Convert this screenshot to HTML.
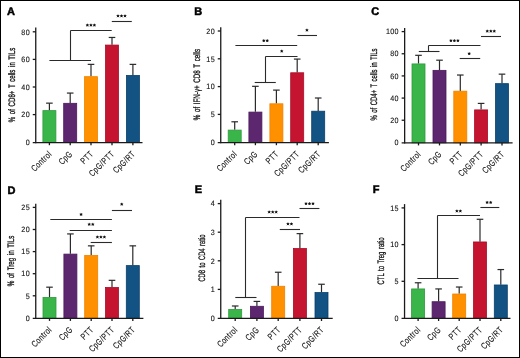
<!DOCTYPE html>
<html><head><meta charset="utf-8"><style>
html,body{margin:0;padding:0;background:#fff;}
body{width:520px;height:358px;overflow:hidden;}
svg{display:block;filter:blur(0.5px);}
text{font-family:"Liberation Sans", sans-serif;text-rendering:geometricPrecision;stroke:#111;stroke-width:0.3px;}
.ax{stroke:#1a1a1a;stroke-width:1.3;}
.eb{stroke:#2a2a2a;stroke-width:1.2;}
.br{stroke:#2a2a2a;stroke-width:1.1;}
.st{stroke:#111;stroke-width:0.7;stroke-linecap:round;fill:none;}
.tl{font-size:7.8px;text-anchor:end;fill:#111;stroke-width:0.1px;letter-spacing:0.3px;}
.xl{font-size:9.0px;text-anchor:end;fill:#111;letter-spacing:0.5px;stroke-width:0.12px;}
.yt{font-size:9.4px;text-anchor:middle;fill:#111;word-spacing:1.5px;stroke-width:0.3px;}
.pl{font-size:11px;font-weight:bold;fill:#000;stroke:#000;stroke-width:0.5px;}
</style></head><body>
<svg width="520" height="358" viewBox="0 0 520 358">
<rect x="0.5" y="0.5" width="519" height="357" fill="#fff" stroke="#000" stroke-width="1"/>
<line x1="49.4" y1="110.32" x2="49.4" y2="103.15" class="eb"/>
<line x1="46.1" y1="103.15" x2="52.7" y2="103.15" class="eb"/>
<rect x="42.9" y="110.62" width="13" height="31.98" fill="#3ab54a" stroke="#2f9a3c" stroke-width="0.8"/>
<line x1="49.4" y1="142.6" x2="49.4" y2="145.2" class="ax"/>
<text x="0" y="0" class="xl" transform="translate(52.3 154.6) rotate(-45) scale(0.76 1)">Control</text>
<line x1="70.2" y1="103.01" x2="70.2" y2="93.07" class="eb"/>
<line x1="66.9" y1="93.07" x2="73.5" y2="93.07" class="eb"/>
<rect x="63.7" y="103.31" width="13" height="39.29" fill="#5d2770" stroke="#4a1a5a" stroke-width="0.8"/>
<line x1="70.2" y1="142.6" x2="70.2" y2="145.2" class="ax"/>
<text x="0" y="0" class="xl" transform="translate(73.1 154.6) rotate(-45) scale(0.76 1)">CpG</text>
<line x1="91" y1="76.37" x2="91" y2="64.37" class="eb"/>
<line x1="87.7" y1="64.37" x2="94.3" y2="64.37" class="eb"/>
<rect x="84.5" y="76.67" width="13" height="65.93" fill="#ff9000" stroke="#f08000" stroke-width="0.8"/>
<line x1="91" y1="142.6" x2="91" y2="145.2" class="ax"/>
<text x="0" y="0" class="xl" transform="translate(93.9 154.6) rotate(-45) scale(0.76 1)">PTT</text>
<line x1="112" y1="44.77" x2="112" y2="37.46" class="eb"/>
<line x1="108.7" y1="37.46" x2="115.3" y2="37.46" class="eb"/>
<rect x="105.5" y="45.07" width="13" height="97.53" fill="#c51430" stroke="#a80c25" stroke-width="0.8"/>
<line x1="112" y1="142.6" x2="112" y2="145.2" class="ax"/>
<text x="0" y="0" class="xl" transform="translate(114.9 154.6) rotate(-45) scale(0.76 1)">CpG/PTT</text>
<line x1="132.9" y1="75.13" x2="132.9" y2="64.37" class="eb"/>
<line x1="129.6" y1="64.37" x2="136.2" y2="64.37" class="eb"/>
<rect x="126.4" y="75.43" width="13" height="67.17" fill="#125384" stroke="#0b3f6a" stroke-width="0.8"/>
<line x1="132.9" y1="142.6" x2="132.9" y2="145.2" class="ax"/>
<text x="0" y="0" class="xl" transform="translate(135.8 154.6) rotate(-45) scale(0.76 1)">CpG/RT</text>
<line x1="35.75" y1="27.5" x2="35.75" y2="143.2" class="ax"/>
<line x1="32.75" y1="142.6" x2="142.5" y2="142.6" class="ax"/>
<text x="0" y="0" class="tl" transform="translate(29.9 144.9) scale(0.92 1)">0</text>
<line x1="32.75" y1="114.6" x2="35.75" y2="114.6" class="ax"/>
<text x="0" y="0" class="tl" transform="translate(29.9 117.3) scale(0.92 1)">20</text>
<line x1="32.75" y1="87" x2="35.75" y2="87" class="ax"/>
<text x="0" y="0" class="tl" transform="translate(29.9 89.7) scale(0.92 1)">40</text>
<line x1="32.75" y1="59.4" x2="35.75" y2="59.4" class="ax"/>
<text x="0" y="0" class="tl" transform="translate(29.9 62.1) scale(0.92 1)">60</text>
<line x1="32.75" y1="31.8" x2="35.75" y2="31.8" class="ax"/>
<text x="0" y="0" class="tl" transform="translate(29.9 34.5) scale(0.92 1)">80</text>
<line x1="49.4" y1="60.5" x2="91" y2="60.5" class="br"/>
<line x1="70.5" y1="60.5" x2="70.5" y2="30.5" class="br"/>
<line x1="70.5" y1="30.5" x2="111.7" y2="30.5" class="br"/>
<line x1="111.8" y1="21.5" x2="131.8" y2="21.5" class="br"/>
<path d="M87.4 25.2L87.4 24.05M87.4 25.2L88.49 24.84M87.4 25.2L88.08 26.13M87.4 25.2L86.72 26.13M87.4 25.2L86.31 24.84" class="st"/><circle cx="87.4" cy="25.2" r="0.95" fill="#111"/>
<path d="M90.9 25.2L90.9 24.05M90.9 25.2L91.99 24.84M90.9 25.2L91.58 26.13M90.9 25.2L90.22 26.13M90.9 25.2L89.81 24.84" class="st"/><circle cx="90.9" cy="25.2" r="0.95" fill="#111"/>
<path d="M94.4 25.2L94.4 24.05M94.4 25.2L95.49 24.84M94.4 25.2L95.08 26.13M94.4 25.2L93.72 26.13M94.4 25.2L93.31 24.84" class="st"/><circle cx="94.4" cy="25.2" r="0.95" fill="#111"/>
<path d="M118 16L118 14.85M118 16L119.09 15.64M118 16L118.68 16.93M118 16L117.32 16.93M118 16L116.91 15.64" class="st"/><circle cx="118" cy="16" r="0.95" fill="#111"/>
<path d="M121.5 16L121.5 14.85M121.5 16L122.59 15.64M121.5 16L122.18 16.93M121.5 16L120.82 16.93M121.5 16L120.41 15.64" class="st"/><circle cx="121.5" cy="16" r="0.95" fill="#111"/>
<path d="M125 16L125 14.85M125 16L126.09 15.64M125 16L125.68 16.93M125 16L124.32 16.93M125 16L123.91 15.64" class="st"/><circle cx="125" cy="16" r="0.95" fill="#111"/>
<text class="yt" transform="translate(12.2 85) rotate(-90) scale(0.65 1)" x="0" y="2.6">% of CD8+ T cells in TILs</text>
<text x="7" y="15" class="pl">A</text>
<line x1="234.7" y1="129.8" x2="234.7" y2="121.79" class="eb"/>
<line x1="231.4" y1="121.79" x2="238" y2="121.79" class="eb"/>
<rect x="228.2" y="130.1" width="13" height="12.5" fill="#3ab54a" stroke="#2f9a3c" stroke-width="0.8"/>
<line x1="234.7" y1="142.6" x2="234.7" y2="145.2" class="ax"/>
<text x="0" y="0" class="xl" transform="translate(237.6 154.6) rotate(-45) scale(0.76 1)">Control</text>
<line x1="255.4" y1="111.79" x2="255.4" y2="86.32" class="eb"/>
<line x1="252.1" y1="86.32" x2="258.7" y2="86.32" class="eb"/>
<rect x="248.9" y="112.09" width="13" height="30.51" fill="#5d2770" stroke="#4a1a5a" stroke-width="0.8"/>
<line x1="255.4" y1="142.6" x2="255.4" y2="145.2" class="ax"/>
<text x="0" y="0" class="xl" transform="translate(258.3 154.6) rotate(-45) scale(0.76 1)">CpG</text>
<line x1="276.4" y1="103.5" x2="276.4" y2="90.1" class="eb"/>
<line x1="273.1" y1="90.1" x2="279.7" y2="90.1" class="eb"/>
<rect x="269.9" y="103.8" width="13" height="38.8" fill="#ff9000" stroke="#f08000" stroke-width="0.8"/>
<line x1="276.4" y1="142.6" x2="276.4" y2="145.2" class="ax"/>
<text x="0" y="0" class="xl" transform="translate(279.3 154.6) rotate(-45) scale(0.76 1)">PTT</text>
<line x1="297.2" y1="72.48" x2="297.2" y2="59.08" class="eb"/>
<line x1="293.9" y1="59.08" x2="300.5" y2="59.08" class="eb"/>
<rect x="290.7" y="72.78" width="13" height="69.82" fill="#c51430" stroke="#a80c25" stroke-width="0.8"/>
<line x1="297.2" y1="142.6" x2="297.2" y2="145.2" class="ax"/>
<text x="0" y="0" class="xl" transform="translate(300.1 154.6) rotate(-45) scale(0.76 1)">CpG/PTT</text>
<line x1="318.2" y1="110.9" x2="318.2" y2="98" class="eb"/>
<line x1="314.9" y1="98" x2="321.5" y2="98" class="eb"/>
<rect x="311.7" y="111.2" width="13" height="31.4" fill="#125384" stroke="#0b3f6a" stroke-width="0.8"/>
<line x1="318.2" y1="142.6" x2="318.2" y2="145.2" class="ax"/>
<text x="0" y="0" class="xl" transform="translate(321.1 154.6) rotate(-45) scale(0.76 1)">CpG/RT</text>
<line x1="220.75" y1="27.2" x2="220.75" y2="143.2" class="ax"/>
<line x1="217.75" y1="142.6" x2="328.9" y2="142.6" class="ax"/>
<text x="0" y="0" class="tl" transform="translate(214.9 144.9) scale(0.92 1)">0</text>
<line x1="217.75" y1="114.4" x2="220.75" y2="114.4" class="ax"/>
<text x="0" y="0" class="tl" transform="translate(214.9 117.1) scale(0.92 1)">5</text>
<line x1="217.75" y1="86.6" x2="220.75" y2="86.6" class="ax"/>
<text x="0" y="0" class="tl" transform="translate(214.9 89.3) scale(0.92 1)">10</text>
<line x1="217.75" y1="58.8" x2="220.75" y2="58.8" class="ax"/>
<text x="0" y="0" class="tl" transform="translate(214.9 61.5) scale(0.92 1)">15</text>
<line x1="217.75" y1="31" x2="220.75" y2="31" class="ax"/>
<text x="0" y="0" class="tl" transform="translate(214.9 33.7) scale(0.92 1)">20</text>
<line x1="235.4" y1="45.5" x2="297.2" y2="45.5" class="br"/>
<line x1="297.5" y1="35.5" x2="317" y2="35.5" class="br"/>
<line x1="254.7" y1="82.5" x2="275.8" y2="82.5" class="br"/>
<line x1="265.5" y1="82.5" x2="265.5" y2="56.5" class="br"/>
<line x1="265.5" y1="56.5" x2="297.5" y2="56.5" class="br"/>
<path d="M263.75 40.7L263.75 39.55M263.75 40.7L264.84 40.34M263.75 40.7L264.43 41.63M263.75 40.7L263.07 41.63M263.75 40.7L262.66 40.34" class="st"/><circle cx="263.75" cy="40.7" r="0.95" fill="#111"/>
<path d="M267.25 40.7L267.25 39.55M267.25 40.7L268.34 40.34M267.25 40.7L267.93 41.63M267.25 40.7L266.57 41.63M267.25 40.7L266.16 40.34" class="st"/><circle cx="267.25" cy="40.7" r="0.95" fill="#111"/>
<path d="M306.9 30.2L306.9 29.05M306.9 30.2L307.99 29.84M306.9 30.2L307.58 31.13M306.9 30.2L306.22 31.13M306.9 30.2L305.81 29.84" class="st"/><circle cx="306.9" cy="30.2" r="0.95" fill="#111"/>
<path d="M281.7 51.2L281.7 50.05M281.7 51.2L282.79 50.84M281.7 51.2L282.38 52.13M281.7 51.2L281.02 52.13M281.7 51.2L280.61 50.84" class="st"/><circle cx="281.7" cy="51.2" r="0.95" fill="#111"/>
<text class="yt" transform="translate(197 84.6) rotate(-90) scale(0.66 1)" x="0" y="2.6">% of IFN-γ+ CD8 T cells</text>
<text x="194.3" y="14.7" class="pl">B</text>
<line x1="418.5" y1="63.62" x2="418.5" y2="55.31" class="eb"/>
<line x1="415.2" y1="55.31" x2="421.8" y2="55.31" class="eb"/>
<rect x="412" y="63.92" width="13" height="78.88" fill="#3ab54a" stroke="#2f9a3c" stroke-width="0.8"/>
<line x1="418.5" y1="142.8" x2="418.5" y2="145.4" class="ax"/>
<text x="0" y="0" class="xl" transform="translate(421.4 154.8) rotate(-45) scale(0.76 1)">Control</text>
<line x1="439.5" y1="70.05" x2="439.5" y2="60.19" class="eb"/>
<line x1="436.2" y1="60.19" x2="442.8" y2="60.19" class="eb"/>
<rect x="433" y="70.35" width="13" height="72.45" fill="#5d2770" stroke="#4a1a5a" stroke-width="0.8"/>
<line x1="439.5" y1="142.8" x2="439.5" y2="145.4" class="ax"/>
<text x="0" y="0" class="xl" transform="translate(442.4 154.8) rotate(-45) scale(0.76 1)">CpG</text>
<line x1="460.3" y1="90.88" x2="460.3" y2="75.03" class="eb"/>
<line x1="457" y1="75.03" x2="463.6" y2="75.03" class="eb"/>
<rect x="453.8" y="91.18" width="13" height="51.62" fill="#ff9000" stroke="#f08000" stroke-width="0.8"/>
<line x1="460.3" y1="142.8" x2="460.3" y2="145.4" class="ax"/>
<text x="0" y="0" class="xl" transform="translate(463.2 154.8) rotate(-45) scale(0.76 1)">PTT</text>
<line x1="481.1" y1="109.6" x2="481.1" y2="103.4" class="eb"/>
<line x1="477.8" y1="103.4" x2="484.4" y2="103.4" class="eb"/>
<rect x="474.6" y="109.9" width="13" height="32.9" fill="#c51430" stroke="#a80c25" stroke-width="0.8"/>
<line x1="481.1" y1="142.8" x2="481.1" y2="145.4" class="ax"/>
<text x="0" y="0" class="xl" transform="translate(484 154.8) rotate(-45) scale(0.76 1)">CpG/PTT</text>
<line x1="502" y1="83.34" x2="502" y2="74.15" class="eb"/>
<line x1="498.7" y1="74.15" x2="505.3" y2="74.15" class="eb"/>
<rect x="495.5" y="83.64" width="13" height="59.16" fill="#125384" stroke="#0b3f6a" stroke-width="0.8"/>
<line x1="502" y1="142.8" x2="502" y2="145.4" class="ax"/>
<text x="0" y="0" class="xl" transform="translate(504.9 154.8) rotate(-45) scale(0.76 1)">CpG/RT</text>
<line x1="404.65" y1="27.9" x2="404.65" y2="143.4" class="ax"/>
<line x1="401.65" y1="142.8" x2="512.6" y2="142.8" class="ax"/>
<text x="0" y="0" class="tl" transform="translate(398.8 145.1) scale(0.92 1)">0</text>
<line x1="401.65" y1="120.24" x2="404.65" y2="120.24" class="ax"/>
<text x="0" y="0" class="tl" transform="translate(398.8 122.94) scale(0.92 1)">20</text>
<line x1="401.65" y1="98.08" x2="404.65" y2="98.08" class="ax"/>
<text x="0" y="0" class="tl" transform="translate(398.8 100.78) scale(0.92 1)">40</text>
<line x1="401.65" y1="75.92" x2="404.65" y2="75.92" class="ax"/>
<text x="0" y="0" class="tl" transform="translate(398.8 78.62) scale(0.92 1)">60</text>
<line x1="401.65" y1="53.76" x2="404.65" y2="53.76" class="ax"/>
<text x="0" y="0" class="tl" transform="translate(398.8 56.46) scale(0.92 1)">80</text>
<line x1="401.65" y1="31.6" x2="404.65" y2="31.6" class="ax"/>
<text x="0" y="0" class="tl" transform="translate(398.8 34.3) scale(0.92 1)">100</text>
<line x1="418.8" y1="51.5" x2="439.5" y2="51.5" class="br"/>
<line x1="428.5" y1="51.5" x2="428.5" y2="45.5" class="br"/>
<line x1="428.5" y1="45.5" x2="480.5" y2="45.5" class="br"/>
<line x1="459.7" y1="58.5" x2="480.2" y2="58.5" class="br"/>
<line x1="481" y1="36.5" x2="501" y2="36.5" class="br"/>
<path d="M450.9 40.7L450.9 39.55M450.9 40.7L451.99 40.34M450.9 40.7L451.58 41.63M450.9 40.7L450.22 41.63M450.9 40.7L449.81 40.34" class="st"/><circle cx="450.9" cy="40.7" r="0.95" fill="#111"/>
<path d="M454.4 40.7L454.4 39.55M454.4 40.7L455.49 40.34M454.4 40.7L455.08 41.63M454.4 40.7L453.72 41.63M454.4 40.7L453.31 40.34" class="st"/><circle cx="454.4" cy="40.7" r="0.95" fill="#111"/>
<path d="M457.9 40.7L457.9 39.55M457.9 40.7L458.99 40.34M457.9 40.7L458.58 41.63M457.9 40.7L457.22 41.63M457.9 40.7L456.81 40.34" class="st"/><circle cx="457.9" cy="40.7" r="0.95" fill="#111"/>
<path d="M469.2 53.7L469.2 52.55M469.2 53.7L470.29 53.34M469.2 53.7L469.88 54.63M469.2 53.7L468.52 54.63M469.2 53.7L468.11 53.34" class="st"/><circle cx="469.2" cy="53.7" r="0.95" fill="#111"/>
<path d="M487.3 31.2L487.3 30.05M487.3 31.2L488.39 30.84M487.3 31.2L487.98 32.13M487.3 31.2L486.62 32.13M487.3 31.2L486.21 30.84" class="st"/><circle cx="487.3" cy="31.2" r="0.95" fill="#111"/>
<path d="M490.8 31.2L490.8 30.05M490.8 31.2L491.89 30.84M490.8 31.2L491.48 32.13M490.8 31.2L490.12 32.13M490.8 31.2L489.71 30.84" class="st"/><circle cx="490.8" cy="31.2" r="0.95" fill="#111"/>
<path d="M494.3 31.2L494.3 30.05M494.3 31.2L495.39 30.84M494.3 31.2L494.98 32.13M494.3 31.2L493.62 32.13M494.3 31.2L493.21 30.84" class="st"/><circle cx="494.3" cy="31.2" r="0.95" fill="#111"/>
<text class="yt" transform="translate(374.1 84.5) rotate(-90) scale(0.63 1)" x="0" y="2.6">% of CD4+ T cells in TILs</text>
<text x="371.2" y="15" class="pl">C</text>
<line x1="49.5" y1="297.13" x2="49.5" y2="287.18" class="eb"/>
<line x1="46.2" y1="287.18" x2="52.8" y2="287.18" class="eb"/>
<rect x="43" y="297.43" width="13" height="20.87" fill="#3ab54a" stroke="#2f9a3c" stroke-width="0.8"/>
<line x1="49.5" y1="318.3" x2="49.5" y2="320.9" class="ax"/>
<text x="0" y="0" class="xl" transform="translate(52.4 330.3) rotate(-45) scale(0.76 1)">Control</text>
<line x1="70.4" y1="253.81" x2="70.4" y2="233.92" class="eb"/>
<line x1="67.1" y1="233.92" x2="73.7" y2="233.92" class="eb"/>
<rect x="63.9" y="254.11" width="13" height="64.19" fill="#5d2770" stroke="#4a1a5a" stroke-width="0.8"/>
<line x1="70.4" y1="318.3" x2="70.4" y2="320.9" class="ax"/>
<text x="0" y="0" class="xl" transform="translate(73.3 330.3) rotate(-45) scale(0.76 1)">CpG</text>
<line x1="91.2" y1="255.14" x2="91.2" y2="245.85" class="eb"/>
<line x1="87.9" y1="245.85" x2="94.5" y2="245.85" class="eb"/>
<rect x="84.7" y="255.44" width="13" height="62.86" fill="#ff9000" stroke="#f08000" stroke-width="0.8"/>
<line x1="91.2" y1="318.3" x2="91.2" y2="320.9" class="ax"/>
<text x="0" y="0" class="xl" transform="translate(94.1 330.3) rotate(-45) scale(0.76 1)">PTT</text>
<line x1="112" y1="287.18" x2="112" y2="280.33" class="eb"/>
<line x1="108.7" y1="280.33" x2="115.3" y2="280.33" class="eb"/>
<rect x="105.5" y="287.48" width="13" height="30.82" fill="#c51430" stroke="#a80c25" stroke-width="0.8"/>
<line x1="112" y1="318.3" x2="112" y2="320.9" class="ax"/>
<text x="0" y="0" class="xl" transform="translate(114.9 330.3) rotate(-45) scale(0.76 1)">CpG/PTT</text>
<line x1="132.8" y1="265.3" x2="132.8" y2="245.85" class="eb"/>
<line x1="129.5" y1="245.85" x2="136.1" y2="245.85" class="eb"/>
<rect x="126.3" y="265.6" width="13" height="52.7" fill="#125384" stroke="#0b3f6a" stroke-width="0.8"/>
<line x1="132.8" y1="318.3" x2="132.8" y2="320.9" class="ax"/>
<text x="0" y="0" class="xl" transform="translate(135.7 330.3) rotate(-45) scale(0.76 1)">CpG/RT</text>
<line x1="35.75" y1="203.7" x2="35.75" y2="318.9" class="ax"/>
<line x1="32.75" y1="318.3" x2="143.4" y2="318.3" class="ax"/>
<text x="0" y="0" class="tl" transform="translate(29.9 320.6) scale(0.92 1)">0</text>
<line x1="32.75" y1="295.8" x2="35.75" y2="295.8" class="ax"/>
<text x="0" y="0" class="tl" transform="translate(29.9 298.5) scale(0.92 1)">5</text>
<line x1="32.75" y1="273.7" x2="35.75" y2="273.7" class="ax"/>
<text x="0" y="0" class="tl" transform="translate(29.9 276.4) scale(0.92 1)">10</text>
<line x1="32.75" y1="251.6" x2="35.75" y2="251.6" class="ax"/>
<text x="0" y="0" class="tl" transform="translate(29.9 254.3) scale(0.92 1)">15</text>
<line x1="32.75" y1="229.5" x2="35.75" y2="229.5" class="ax"/>
<text x="0" y="0" class="tl" transform="translate(29.9 232.2) scale(0.92 1)">20</text>
<line x1="32.75" y1="207.4" x2="35.75" y2="207.4" class="ax"/>
<text x="0" y="0" class="tl" transform="translate(29.9 210.1) scale(0.92 1)">25</text>
<line x1="50.3" y1="219.5" x2="111.9" y2="219.5" class="br"/>
<line x1="69.7" y1="230.5" x2="111.9" y2="230.5" class="br"/>
<line x1="90.7" y1="242.5" x2="111.9" y2="242.5" class="br"/>
<line x1="111.9" y1="210.5" x2="132" y2="210.5" class="br"/>
<path d="M81.1 214.5L81.1 213.35M81.1 214.5L82.19 214.14M81.1 214.5L81.78 215.43M81.1 214.5L80.42 215.43M81.1 214.5L80.01 214.14" class="st"/><circle cx="81.1" cy="214.5" r="0.95" fill="#111"/>
<path d="M89.25 224.4L89.25 223.25M89.25 224.4L90.34 224.04M89.25 224.4L89.93 225.33M89.25 224.4L88.57 225.33M89.25 224.4L88.16 224.04" class="st"/><circle cx="89.25" cy="224.4" r="0.95" fill="#111"/>
<path d="M92.75 224.4L92.75 223.25M92.75 224.4L93.84 224.04M92.75 224.4L93.43 225.33M92.75 224.4L92.07 225.33M92.75 224.4L91.66 224.04" class="st"/><circle cx="92.75" cy="224.4" r="0.95" fill="#111"/>
<path d="M97.4 237.1L97.4 235.95M97.4 237.1L98.49 236.74M97.4 237.1L98.08 238.03M97.4 237.1L96.72 238.03M97.4 237.1L96.31 236.74" class="st"/><circle cx="97.4" cy="237.1" r="0.95" fill="#111"/>
<path d="M100.9 237.1L100.9 235.95M100.9 237.1L101.99 236.74M100.9 237.1L101.58 238.03M100.9 237.1L100.22 238.03M100.9 237.1L99.81 236.74" class="st"/><circle cx="100.9" cy="237.1" r="0.95" fill="#111"/>
<path d="M104.4 237.1L104.4 235.95M104.4 237.1L105.49 236.74M104.4 237.1L105.08 238.03M104.4 237.1L103.72 238.03M104.4 237.1L103.31 236.74" class="st"/><circle cx="104.4" cy="237.1" r="0.95" fill="#111"/>
<path d="M121.7 204.3L121.7 203.15M121.7 204.3L122.79 203.94M121.7 204.3L122.38 205.23M121.7 204.3L121.02 205.23M121.7 204.3L120.61 203.94" class="st"/><circle cx="121.7" cy="204.3" r="0.95" fill="#111"/>
<text class="yt" transform="translate(11.3 261) rotate(-90) scale(0.66 1)" x="0" y="2.6">% of Treg in TILs</text>
<text x="7.4" y="193.65" class="pl">D</text>
<line x1="235.2" y1="309.13" x2="235.2" y2="305.99" class="eb"/>
<line x1="231.9" y1="305.99" x2="238.5" y2="305.99" class="eb"/>
<rect x="228.7" y="309.43" width="13" height="8.97" fill="#3ab54a" stroke="#2f9a3c" stroke-width="0.8"/>
<line x1="235.2" y1="318.4" x2="235.2" y2="321" class="ax"/>
<text x="0" y="0" class="xl" transform="translate(238.1 330.4) rotate(-45) scale(0.76 1)">Control</text>
<line x1="256.9" y1="305.99" x2="256.9" y2="301.41" class="eb"/>
<line x1="253.6" y1="301.41" x2="260.2" y2="301.41" class="eb"/>
<rect x="250.4" y="306.29" width="13" height="12.11" fill="#5d2770" stroke="#4a1a5a" stroke-width="0.8"/>
<line x1="256.9" y1="318.4" x2="256.9" y2="321" class="ax"/>
<text x="0" y="0" class="xl" transform="translate(259.8 330.4) rotate(-45) scale(0.76 1)">CpG</text>
<line x1="278.2" y1="285.97" x2="278.2" y2="272.24" class="eb"/>
<line x1="274.9" y1="272.24" x2="281.5" y2="272.24" class="eb"/>
<rect x="271.7" y="286.27" width="13" height="32.13" fill="#ff9000" stroke="#f08000" stroke-width="0.8"/>
<line x1="278.2" y1="318.4" x2="278.2" y2="321" class="ax"/>
<text x="0" y="0" class="xl" transform="translate(281.1 330.4) rotate(-45) scale(0.76 1)">PTT</text>
<line x1="299.9" y1="248.22" x2="299.9" y2="233.63" class="eb"/>
<line x1="296.6" y1="233.63" x2="303.2" y2="233.63" class="eb"/>
<rect x="293.4" y="248.52" width="13" height="69.88" fill="#c51430" stroke="#a80c25" stroke-width="0.8"/>
<line x1="299.9" y1="318.4" x2="299.9" y2="321" class="ax"/>
<text x="0" y="0" class="xl" transform="translate(302.8 330.4) rotate(-45) scale(0.76 1)">CpG/PTT</text>
<line x1="321.5" y1="292.26" x2="321.5" y2="284.25" class="eb"/>
<line x1="318.2" y1="284.25" x2="324.8" y2="284.25" class="eb"/>
<rect x="315" y="292.56" width="13" height="25.84" fill="#125384" stroke="#0b3f6a" stroke-width="0.8"/>
<line x1="321.5" y1="318.4" x2="321.5" y2="321" class="ax"/>
<text x="0" y="0" class="xl" transform="translate(324.4 330.4) rotate(-45) scale(0.76 1)">CpG/RT</text>
<line x1="220.75" y1="199.7" x2="220.75" y2="319" class="ax"/>
<line x1="217.75" y1="318.4" x2="332.7" y2="318.4" class="ax"/>
<text x="0" y="0" class="tl" transform="translate(214.9 320.7) scale(0.92 1)">0</text>
<line x1="217.75" y1="289.4" x2="220.75" y2="289.4" class="ax"/>
<text x="0" y="0" class="tl" transform="translate(214.9 292.1) scale(0.92 1)">1</text>
<line x1="217.75" y1="260.8" x2="220.75" y2="260.8" class="ax"/>
<text x="0" y="0" class="tl" transform="translate(214.9 263.5) scale(0.92 1)">2</text>
<line x1="217.75" y1="232.2" x2="220.75" y2="232.2" class="ax"/>
<text x="0" y="0" class="tl" transform="translate(214.9 234.9) scale(0.92 1)">3</text>
<line x1="217.75" y1="203.6" x2="220.75" y2="203.6" class="ax"/>
<text x="0" y="0" class="tl" transform="translate(214.9 206.3) scale(0.92 1)">4</text>
<line x1="235.3" y1="297.5" x2="256.5" y2="297.5" class="br"/>
<line x1="245.5" y1="297.5" x2="245.5" y2="217.5" class="br"/>
<line x1="245.5" y1="217.5" x2="299.5" y2="217.5" class="br"/>
<line x1="279.8" y1="229.5" x2="300" y2="229.5" class="br"/>
<line x1="299.5" y1="208.5" x2="319.4" y2="208.5" class="br"/>
<path d="M269.2 212.1L269.2 210.95M269.2 212.1L270.29 211.74M269.2 212.1L269.88 213.03M269.2 212.1L268.52 213.03M269.2 212.1L268.11 211.74" class="st"/><circle cx="269.2" cy="212.1" r="0.95" fill="#111"/>
<path d="M272.7 212.1L272.7 210.95M272.7 212.1L273.79 211.74M272.7 212.1L273.38 213.03M272.7 212.1L272.02 213.03M272.7 212.1L271.61 211.74" class="st"/><circle cx="272.7" cy="212.1" r="0.95" fill="#111"/>
<path d="M276.2 212.1L276.2 210.95M276.2 212.1L277.29 211.74M276.2 212.1L276.88 213.03M276.2 212.1L275.52 213.03M276.2 212.1L275.11 211.74" class="st"/><circle cx="276.2" cy="212.1" r="0.95" fill="#111"/>
<path d="M287.95 224L287.95 222.85M287.95 224L289.04 223.64M287.95 224L288.63 224.93M287.95 224L287.27 224.93M287.95 224L286.86 223.64" class="st"/><circle cx="287.95" cy="224" r="0.95" fill="#111"/>
<path d="M291.45 224L291.45 222.85M291.45 224L292.54 223.64M291.45 224L292.13 224.93M291.45 224L290.77 224.93M291.45 224L290.36 223.64" class="st"/><circle cx="291.45" cy="224" r="0.95" fill="#111"/>
<path d="M306 203.7L306 202.55M306 203.7L307.09 203.34M306 203.7L306.68 204.63M306 203.7L305.32 204.63M306 203.7L304.91 203.34" class="st"/><circle cx="306" cy="203.7" r="0.95" fill="#111"/>
<path d="M309.5 203.7L309.5 202.55M309.5 203.7L310.59 203.34M309.5 203.7L310.18 204.63M309.5 203.7L308.82 204.63M309.5 203.7L308.41 203.34" class="st"/><circle cx="309.5" cy="203.7" r="0.95" fill="#111"/>
<path d="M313 203.7L313 202.55M313 203.7L314.09 203.34M313 203.7L313.68 204.63M313 203.7L312.32 204.63M313 203.7L311.91 203.34" class="st"/><circle cx="313" cy="203.7" r="0.95" fill="#111"/>
<text class="yt" transform="translate(202 258.1) rotate(-90) scale(0.62 1)" x="0" y="2.6">CD8 to CD4 ratio</text>
<text x="194.7" y="193.45" class="pl">E</text>
<line x1="418.1" y1="288.64" x2="418.1" y2="282.77" class="eb"/>
<line x1="414.8" y1="282.77" x2="421.4" y2="282.77" class="eb"/>
<rect x="411.6" y="288.94" width="13" height="29.46" fill="#3ab54a" stroke="#2f9a3c" stroke-width="0.8"/>
<line x1="418.1" y1="318.4" x2="418.1" y2="321" class="ax"/>
<text x="0" y="0" class="xl" transform="translate(421 330.4) rotate(-45) scale(0.76 1)">Control</text>
<line x1="438.6" y1="301.41" x2="438.6" y2="288.93" class="eb"/>
<line x1="435.3" y1="288.93" x2="441.9" y2="288.93" class="eb"/>
<rect x="432.1" y="301.71" width="13" height="16.69" fill="#5d2770" stroke="#4a1a5a" stroke-width="0.8"/>
<line x1="438.6" y1="318.4" x2="438.6" y2="321" class="ax"/>
<text x="0" y="0" class="xl" transform="translate(441.5 330.4) rotate(-45) scale(0.76 1)">CpG</text>
<line x1="459.2" y1="293.7" x2="459.2" y2="287.03" class="eb"/>
<line x1="455.9" y1="287.03" x2="462.5" y2="287.03" class="eb"/>
<rect x="452.7" y="294" width="13" height="24.4" fill="#ff9000" stroke="#f08000" stroke-width="0.8"/>
<line x1="459.2" y1="318.4" x2="459.2" y2="321" class="ax"/>
<text x="0" y="0" class="xl" transform="translate(462.1 330.4) rotate(-45) scale(0.76 1)">PTT</text>
<line x1="480" y1="241.66" x2="480" y2="219.28" class="eb"/>
<line x1="476.7" y1="219.28" x2="483.3" y2="219.28" class="eb"/>
<rect x="473.5" y="241.96" width="13" height="76.44" fill="#c51430" stroke="#a80c25" stroke-width="0.8"/>
<line x1="480" y1="318.4" x2="480" y2="321" class="ax"/>
<text x="0" y="0" class="xl" transform="translate(482.9 330.4) rotate(-45) scale(0.76 1)">CpG/PTT</text>
<line x1="500.8" y1="284.68" x2="500.8" y2="269.56" class="eb"/>
<line x1="497.5" y1="269.56" x2="504.1" y2="269.56" class="eb"/>
<rect x="494.3" y="284.98" width="13" height="33.42" fill="#125384" stroke="#0b3f6a" stroke-width="0.8"/>
<line x1="500.8" y1="318.4" x2="500.8" y2="321" class="ax"/>
<text x="0" y="0" class="xl" transform="translate(503.7 330.4) rotate(-45) scale(0.76 1)">CpG/RT</text>
<line x1="404.55" y1="204.1" x2="404.55" y2="319" class="ax"/>
<line x1="401.55" y1="318.4" x2="510.5" y2="318.4" class="ax"/>
<text x="0" y="0" class="tl" transform="translate(398.7 320.7) scale(0.92 1)">0</text>
<line x1="401.55" y1="281.3" x2="404.55" y2="281.3" class="ax"/>
<text x="0" y="0" class="tl" transform="translate(398.7 284) scale(0.92 1)">5</text>
<line x1="401.55" y1="244.6" x2="404.55" y2="244.6" class="ax"/>
<text x="0" y="0" class="tl" transform="translate(398.7 247.3) scale(0.92 1)">10</text>
<line x1="401.55" y1="207.9" x2="404.55" y2="207.9" class="ax"/>
<text x="0" y="0" class="tl" transform="translate(398.7 210.6) scale(0.92 1)">15</text>
<line x1="417.4" y1="278.5" x2="458.5" y2="278.5" class="br"/>
<line x1="437.5" y1="278.5" x2="437.5" y2="215.5" class="br"/>
<line x1="437.5" y1="215.5" x2="480" y2="215.5" class="br"/>
<line x1="480.4" y1="207.5" x2="499.3" y2="207.5" class="br"/>
<path d="M456.85 211.1L456.85 209.95M456.85 211.1L457.94 210.74M456.85 211.1L457.53 212.03M456.85 211.1L456.17 212.03M456.85 211.1L455.76 210.74" class="st"/><circle cx="456.85" cy="211.1" r="0.95" fill="#111"/>
<path d="M460.35 211.1L460.35 209.95M460.35 211.1L461.44 210.74M460.35 211.1L461.03 212.03M460.35 211.1L459.67 212.03M460.35 211.1L459.26 210.74" class="st"/><circle cx="460.35" cy="211.1" r="0.95" fill="#111"/>
<path d="M487.15 202.5L487.15 201.35M487.15 202.5L488.24 202.14M487.15 202.5L487.83 203.43M487.15 202.5L486.47 203.43M487.15 202.5L486.06 202.14" class="st"/><circle cx="487.15" cy="202.5" r="0.95" fill="#111"/>
<path d="M490.65 202.5L490.65 201.35M490.65 202.5L491.74 202.14M490.65 202.5L491.33 203.43M490.65 202.5L489.97 203.43M490.65 202.5L489.56 202.14" class="st"/><circle cx="490.65" cy="202.5" r="0.95" fill="#111"/>
<text class="yt" transform="translate(381.4 261) rotate(-90) scale(0.63 1)" x="0" y="2.6">CTL to Treg ratio</text>
<text x="372.8" y="193.15" class="pl">F</text>
</svg>
</body></html>
